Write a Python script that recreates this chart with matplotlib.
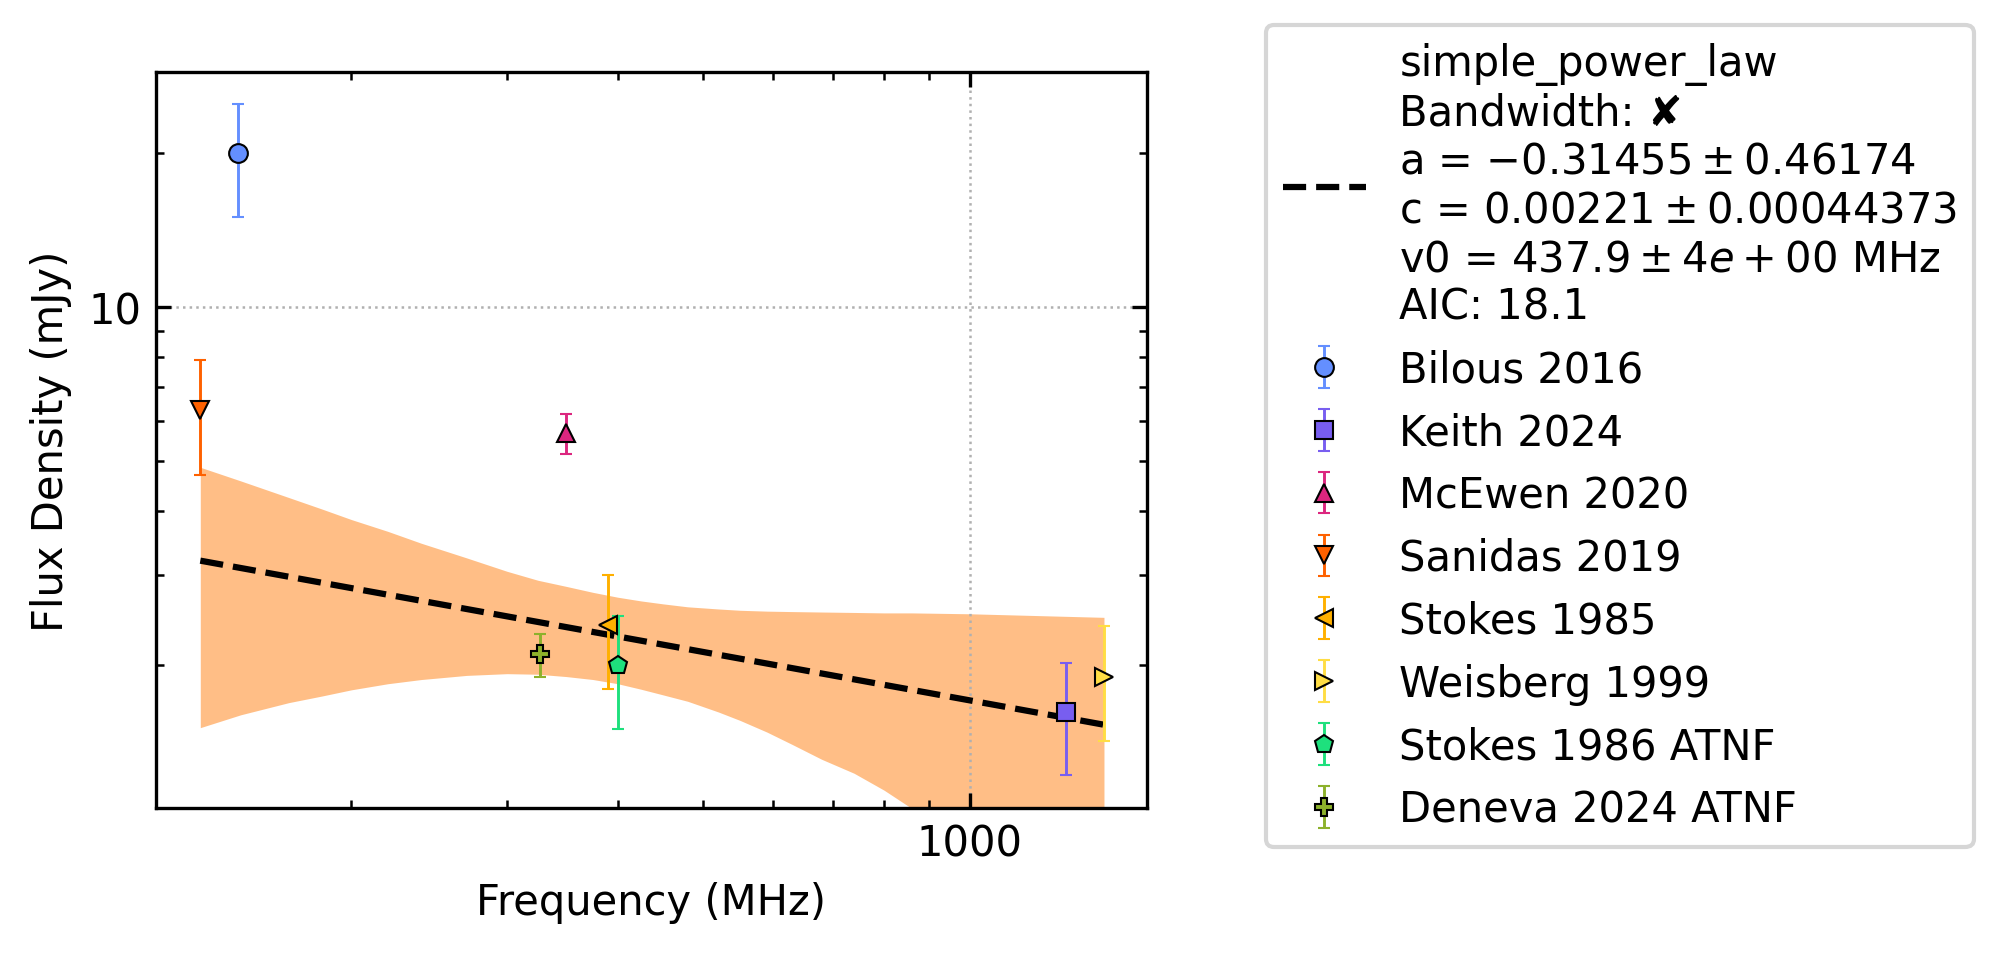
import matplotlib
matplotlib.use("Agg")
import matplotlib.pyplot as plt
from matplotlib import ticker

labels = ["Bilous 2016", "Keith 2024", "McEwen 2020", "Sanidas 2019",
          "Stokes 1985", "Weisberg 1999", "Stokes 1986 ATNF", "Deneva 2024 ATNF"]
freqs = [149, 1284, 350, 135, 390, 1418, 400, 327]
fluxes = [20.0, 1.62, 5.68, 6.3, 2.4, 1.9, 2.0, 2.1]
flux_errs = [5.0, 0.40, 0.5, 1.6, 0.6, 0.48, 0.5, 0.2]
markers = ["o", "s", "^", "v", "<", ">", "p", "P"]
colours = ["#648FFF", "#785EF0", "#DC267F", "#FE6100",
           "#FFB000", "#FFDD44", "#1EE07D", "#8DB12B"]

# fitted simple power law (straight in log-log) and its 1-sigma band
fit_freq = [135, 1418]
fit_flux = [3.20, 1.53]
band_freq = [135, 150, 170, 185, 200, 220, 240, 270, 300, 325, 350, 375, 400,
             425, 450, 480, 520, 550, 590, 630, 680, 740, 800, 860, 1000, 1418]
band_hi = [4.87, 4.58, 4.25, 4.04, 3.85, 3.65, 3.46, 3.24, 3.05, 2.93, 2.85, 2.775, 2.715,
           2.67, 2.635, 2.60, 2.575, 2.56, 2.55, 2.545, 2.54, 2.535, 2.53, 2.53, 2.52, 2.48]
band_lo = [1.51, 1.60, 1.69, 1.74, 1.79, 1.84, 1.875, 1.91, 1.925, 1.92, 1.90, 1.875, 1.84,
           1.795, 1.75, 1.70, 1.62, 1.56, 1.48, 1.40, 1.31, 1.23, 1.14, 1.05, 0.89, 0.57]

fit_label = ("simple_power_law\n"
             "Bandwidth: \u2718\n"
             r"a = $-0.31455 \pm 0.46174$" "\n"
             r"c = $0.00221 \pm 0.00044373$" "\n"
             r"v0 = $437.9 \pm 4e+00$ MHz" "\n"
             "AIC: 18.1")

fig = plt.figure(figsize=(2006 / 300, 955 / 300), dpi=300)
ax = fig.add_axes([156 / 2006, 1 - 808.6 / 955, 991 / 2006, 735.5 / 955])

ax.fill_between(band_freq, band_lo, band_hi, color="C1", alpha=0.5, lw=0, zorder=1)
fit_line, = ax.plot(fit_freq, fit_flux, "k--", lw=1.5, zorder=2, label=fit_label)

handles = [fit_line]
for f, s, e, m, c, lab in zip(freqs, fluxes, flux_errs, markers, colours, labels):
    h = ax.errorbar(f, s, yerr=e, fmt=m, color=c, mfc=c, mec="k", mew=0.5, ms=4.5,
                    elinewidth=0.7, capsize=1.5, capthick=0.7, label=lab, zorder=3)
    handles.append(h)

ax.set_xscale("log")
ax.set_yscale("log")
ax.set_xlim(120.3, 1586)
ax.set_ylim(1.054, 28.8)

for axis in (ax.xaxis, ax.yaxis):
    axis.set_major_formatter(ticker.FormatStrFormatter("%g"))
    axis.set_minor_formatter(ticker.NullFormatter())

ax.tick_params(which="both", direction="in", top=True, right=True)
ax.grid(True, which="major", ls=":", lw=0.6, color="#b0b0b0")

ax.set_xlabel("Frequency (MHz)")
ax.set_ylabel("Flux Density (mJy)")

fig.legend(handles=handles, loc="upper left", borderaxespad=0,
           bbox_to_anchor=(1266 / 2006, 1 - 26 / 955))

fig.savefig("out.png", dpi=300)
